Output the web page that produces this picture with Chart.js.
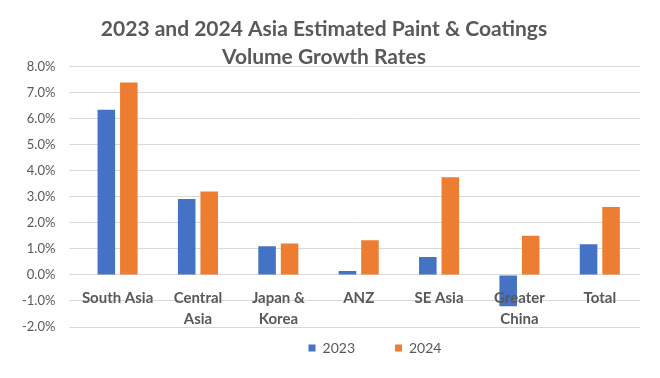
<!DOCTYPE html>
<html>
<head>
<meta charset="utf-8">
<script src="https://cdn.jsdelivr.net/npm/chart.js@4/dist/chart.umd.min.js"></script>
<style>
  html, body { margin: 0; padding: 0; background: #fff; }
  #wrap { width: 660px; height: 378px; }
</style>
</head>
<body>
<div id="wrap"><canvas id="growthChart"></canvas></div>
<script>
// Regions and estimated growth rates (%)
const regions = [
  "South Asia",
  ["Central", "Asia"],
  ["Japan &", "Korea"],
  "ANZ",
  "SE Asia",
  ["Greater", "China"],
  "Total",
];
const growth2023 = [6.34, 2.92, 1.1, 0.15, 0.69, -1.2, 1.18];
const growth2024 = [7.39, 3.2, 1.21, 1.33, 3.75, 1.5, 2.61];
const titleLines = ["2023 and 2024 Asia Estimated Paint & Coatings", "Volume Growth Rates"];

const grey = "#595959";
const fontFamily = "Lato, 'Open Sans', sans-serif";

// move the legend right and up like the original
const legendShift = {
  id: "legendShift",
  afterLayout(chart) {
    chart.legend.left += 51;
    chart.legend.right += 51;
    chart.legend.top -= 26;
    chart.legend.bottom -= 26;
  },
};

const ctx = document.getElementById("growthChart").getContext("2d");
const chart = new Chart(ctx, {
  type: "bar",
  data: {
    labels: regions,
    datasets: [
      {
        label: "2023",
        data: growth2023,
        backgroundColor: "#4472C4",
      },
      {
        label: "2024",
        data: growth2024,
        backgroundColor: "#ED7D31",
      },
    ],
  },
  options: {
    responsive: true,
    maintainAspectRatio: false,
    animation: false,
    categoryPercentage: 0.56,
    barPercentage: 0.78,
    layout: {
      padding: { top: 8, left: 8, right: 20, bottom: -13 },
    },
    plugins: {
      title: {
        display: true,
        text: titleLines,
        color: grey,
        font: { family: fontFamily, size: 21, weight: "bold", lineHeight: 1.3 },
        padding: { top: 8, bottom: -4 },
      },
      legend: {
        position: "bottom",
        labels: {
          boxWidth: 7,
          boxHeight: 7,
          padding: 40,
          color: grey,
          font: { family: fontFamily, size: 14 },
        },
      },
      tooltip: { enabled: false },
    },
    scales: {
      x: {
        position: { y: 0 },
        grid: { display: false },
        border: { display: false },
        ticks: {
          z: 1, // labels are drawn on top of the bars
          color: grey,
          padding: 5,
          font: { family: fontFamily, size: 15, weight: "bold", lineHeight: 1.4 },
        },
      },
      y: {
        min: -2,
        max: 8,
        grid: { color: "#d9d9d9", lineWidth: 1 },
        border: { display: false },
        ticks: {
          stepSize: 1,
          color: grey,
          padding: 14,
          font: { family: fontFamily, size: 13 },
          callback: (value) => value.toFixed(1) + "%",
        },
      },
    },
  },
  plugins: [legendShift],
});
</script>
</body>
</html>
